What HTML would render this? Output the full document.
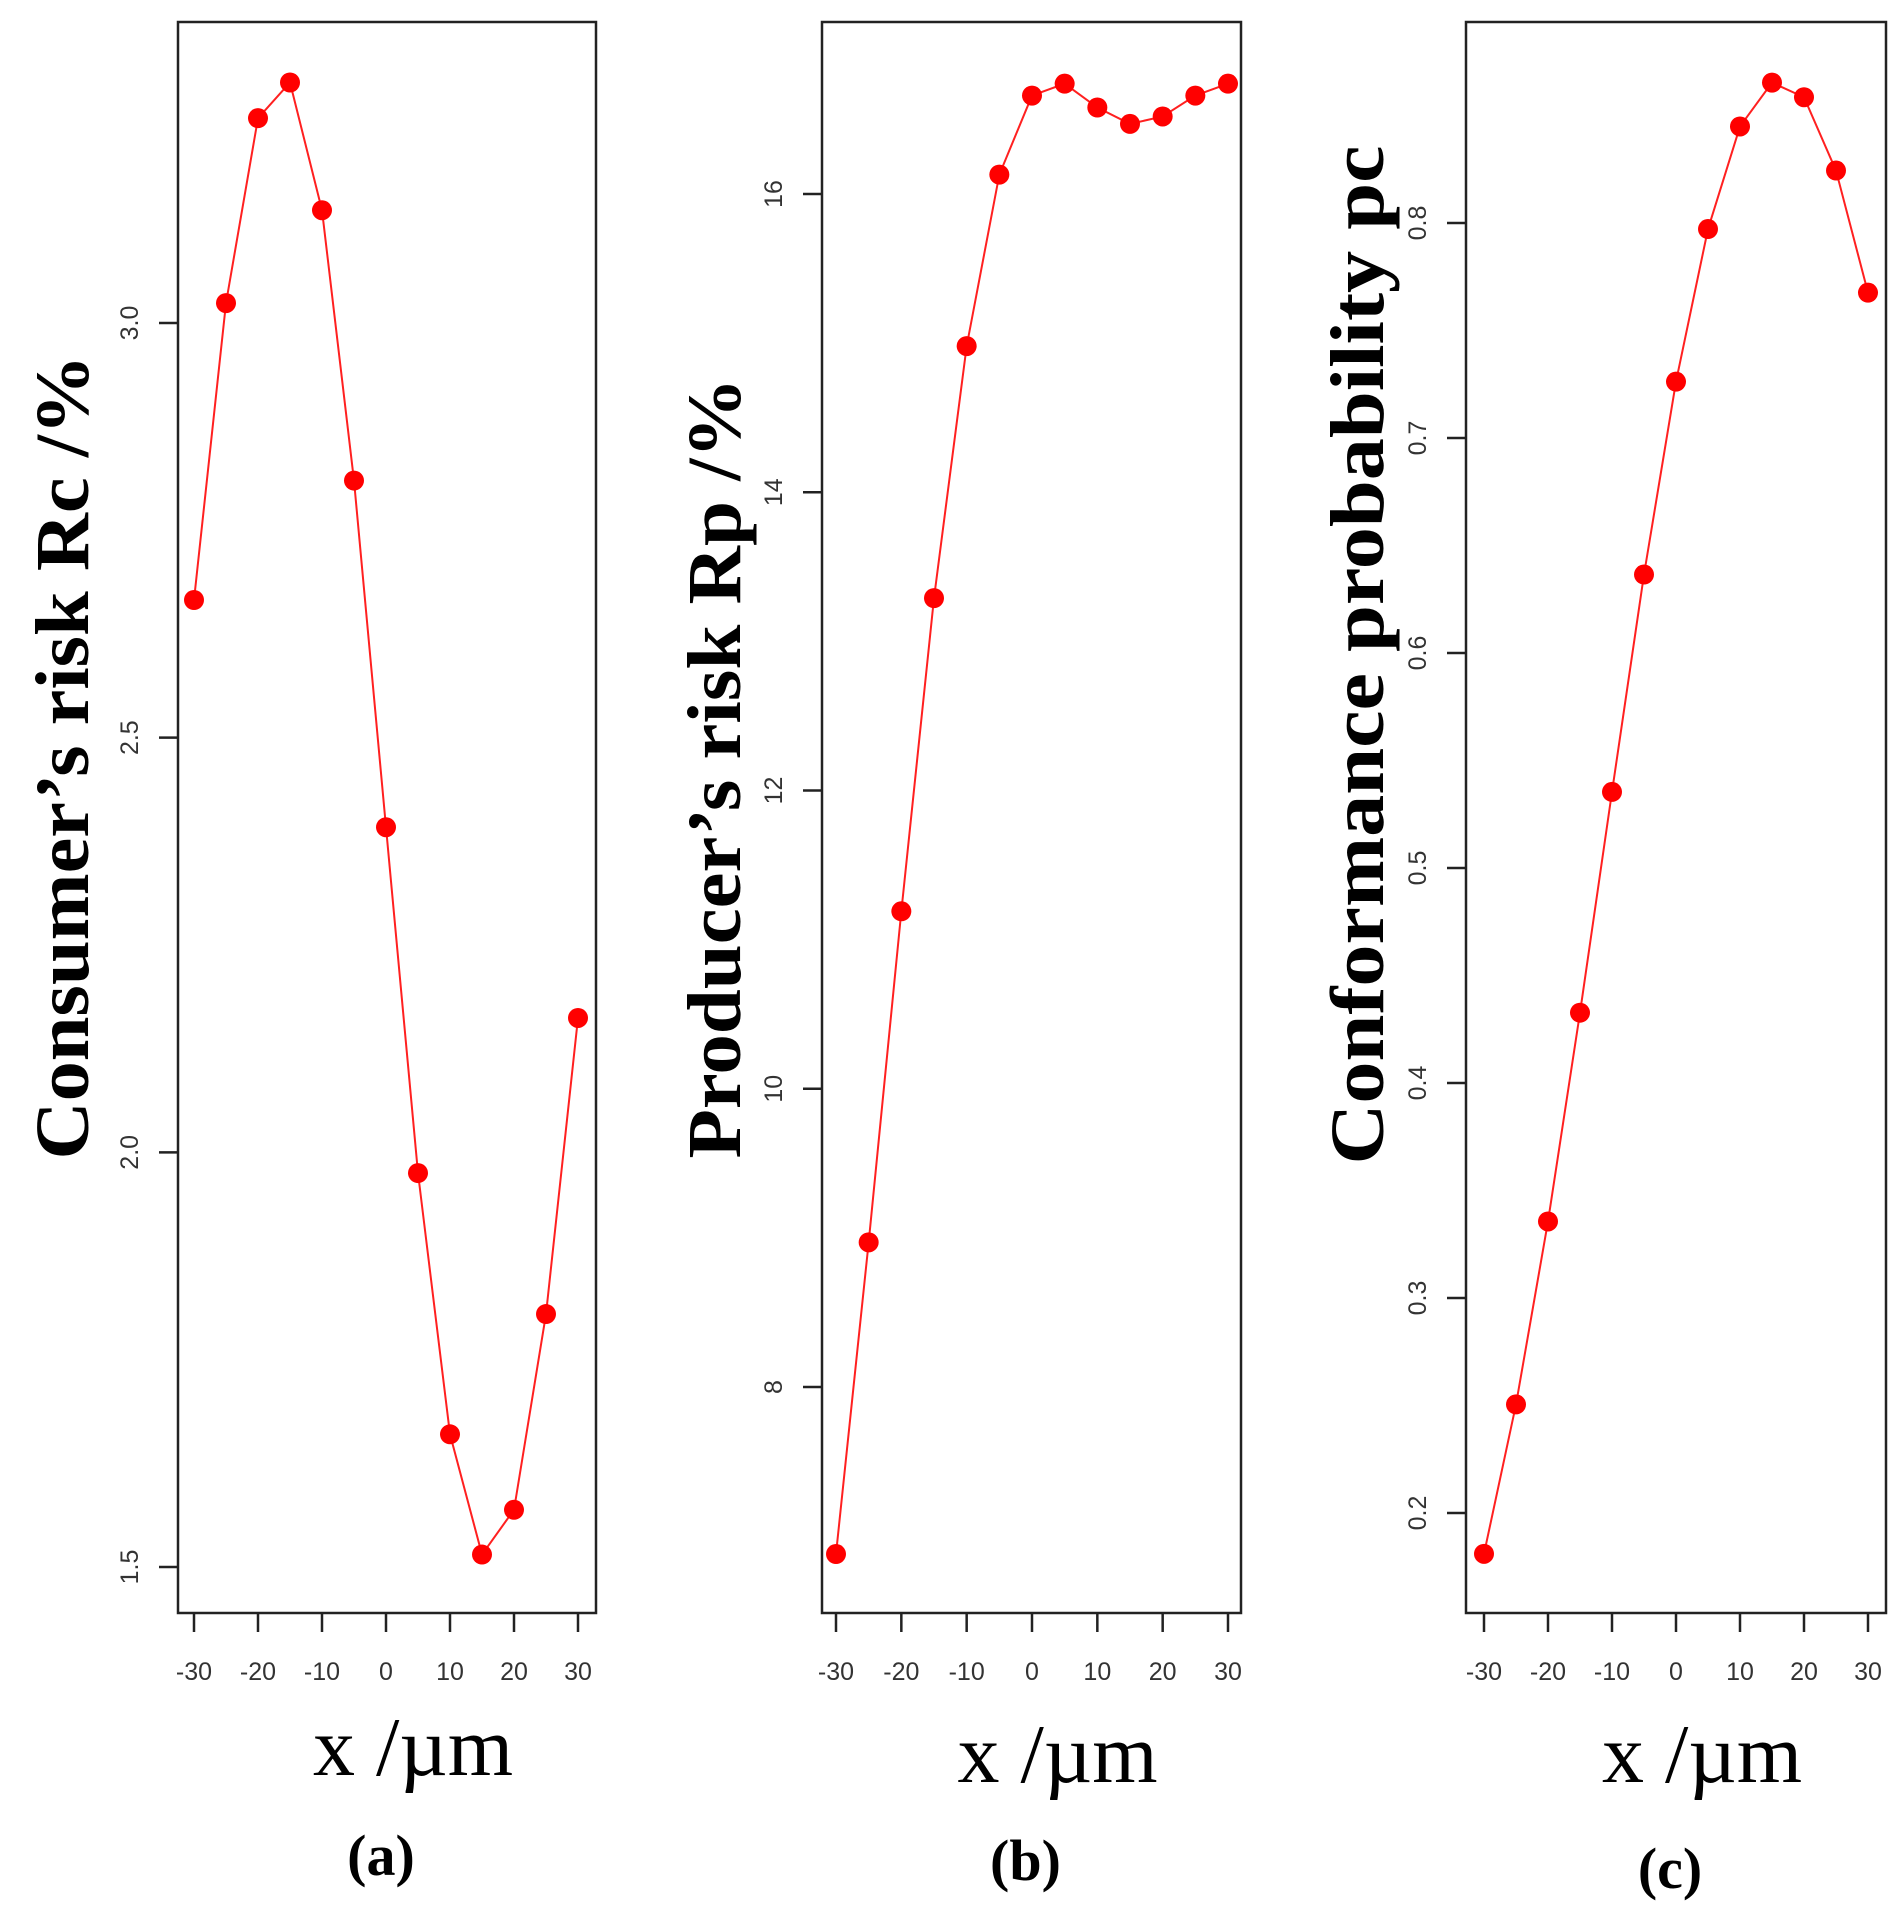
<!DOCTYPE html>
<html><head><meta charset="utf-8"><style>
html,body{margin:0;padding:0;background:#fff;}
svg{display:block;}
.tick{font-family:"Liberation Sans",sans-serif;font-size:25px;fill:#333;}
.title{font-family:"Liberation Serif",serif;font-weight:bold;fill:#000;}
.xtitle{font-family:"Liberation Serif",serif;font-weight:normal;fill:#000;}
</style></head><body>
<svg id="chart" width="1903" height="1913" viewBox="0 0 1903 1913" xmlns="http://www.w3.org/2000/svg"></svg>
<script>
const xCategories = [-30,-25,-20,-15,-10,-5,0,5,10,15,20,25,30];
const xTickLabels = [-30,-20,-10,0,10,20,30];
const seriesA = [2.666,3.024,3.247,3.29,3.136,2.81,2.392,1.975,1.66,1.515,1.569,1.805,2.162];
const seriesB = [6.88,8.97,11.19,13.29,14.98,16.13,16.66,16.74,16.58,16.47,16.52,16.66,16.74];
const seriesC = [0.181,0.2505,0.3356,0.4327,0.5354,0.6365,0.7262,0.7972,0.8449,0.8653,0.8585,0.8244,0.7676];
const yTicksA = [1.5,2.0,2.5,3.0];
const yTicksB = [8,10,12,14,16];
const yTicksC = [0.2,0.3,0.4,0.5,0.6,0.7,0.8];
const yTickTextA = ["1.5","2.0","2.5","3.0"];
const yTickTextB = ["8","10","12","14","16"];
const yTickTextC = ["0.2","0.3","0.4","0.5","0.6","0.7","0.8"];

const NS="http://www.w3.org/2000/svg";
const svg=document.getElementById('chart');
function mk(tag,attrs,parent){const e=document.createElementNS(NS,tag);for(const k in attrs)e.setAttribute(k,attrs[k]);(parent||svg).appendChild(e);return e;}

const panels=[
 {key:'a',box:[178,22,596,1613],x0:194,x1:578,v0:1.5,p0:1567,v1:3.0,p1:323,data:seriesA,ticks:yTicksA,tt:yTickTextA,
  title:"Consumer’s risk Rc /%",tx:88,tcy:757,tlen:805,label:"(a)",labY:1875},
 {key:'b',box:[822,22,1241,1613],x0:836,x1:1228,v0:8,p0:1387,v1:16,p1:194,data:seriesB,ticks:yTicksB,tt:yTickTextB,
  title:"Producer’s risk Rp /%",tx:740,tcy:768,tlen:781,label:"(b)",labY:1880},
 {key:'c',box:[1466,22,1886,1613],x0:1484,x1:1868,v0:0.2,p0:1513,v1:0.8,p1:223,data:seriesC,ticks:yTicksC,tt:yTickTextC,
  title:"Conformance probability pc",tx:1383,tcy:655,tlen:1019,label:"(c)",labY:1888}
];

panels.forEach(p=>{
  const g=mk('g',{});
  
  
  const xs=v=>p.x0+(v-(-30))/60*(p.x1-p.x0);
  const ys=v=>p.p0+(v-p.v0)/(p.v1-p.v0)*(p.p1-p.p0);
  const [l,t,r,b]=p.box;
  const frame=mk('rect',{x:l,y:t,width:r-l,height:b-t,fill:'none',stroke:'#222','stroke-width':2.5},g);
  
  
  xTickLabels.forEach(v=>{
    const X=xs(v);
    const tk=mk('line',{x1:X,y1:b,x2:X,y2:b+19,stroke:'#222','stroke-width':2.5},g);
    
    
    const tx=mk('text',{x:X,y:1680,'text-anchor':'middle',class:'tick'},g);
    tx.textContent=String(v);
    
    
  });
  p.ticks.forEach((v,i)=>{
    const Y=ys(v);
    const tk=mk('line',{x1:l-19,y1:Y,x2:l,y2:Y,stroke:'#222','stroke-width':2.5},g);
    
    
    const tx=mk('text',{x:0,y:0,'text-anchor':'middle',class:'tick',transform:`translate(${l-40},${Y}) rotate(-90)`},g);
    tx.textContent=p.tt[i];
    
    
  });
  const pts=xCategories.map((c,i)=>xs(c)+','+ys(p.data[i])).join(' ');
  const line=mk('polyline',{points:pts,fill:'none',stroke:'#ff2020','stroke-width':2},g);
  
  
  xCategories.forEach((c,i)=>{
    const pt=mk('circle',{cx:xs(c),cy:ys(p.data[i]),r:10,fill:'#ff0000'},g);
    
    
  });
  const yt=mk('text',{x:0,y:0,'text-anchor':'middle',class:'title','font-size':76,textLength:p.tlen,lengthAdjust:'spacingAndGlyphs',transform:`translate(${p.tx},${p.tcy}) rotate(-90)`},g);
  yt.textContent=p.title;
  
  
  const xt=mk('text',{x:(l+r)/2+26,y:p.key==='a'?1775:1782,'text-anchor':'middle',class:'xtitle','font-size':84},g);
  xt.textContent="x /µm";
  
  
  const lb=mk('text',{x:(l+r)/2-6,y:p.labY,'text-anchor':'middle',class:'title','font-size':58},g);
  lb.textContent=p.label;
  
  
});
</script>
</body></html>
